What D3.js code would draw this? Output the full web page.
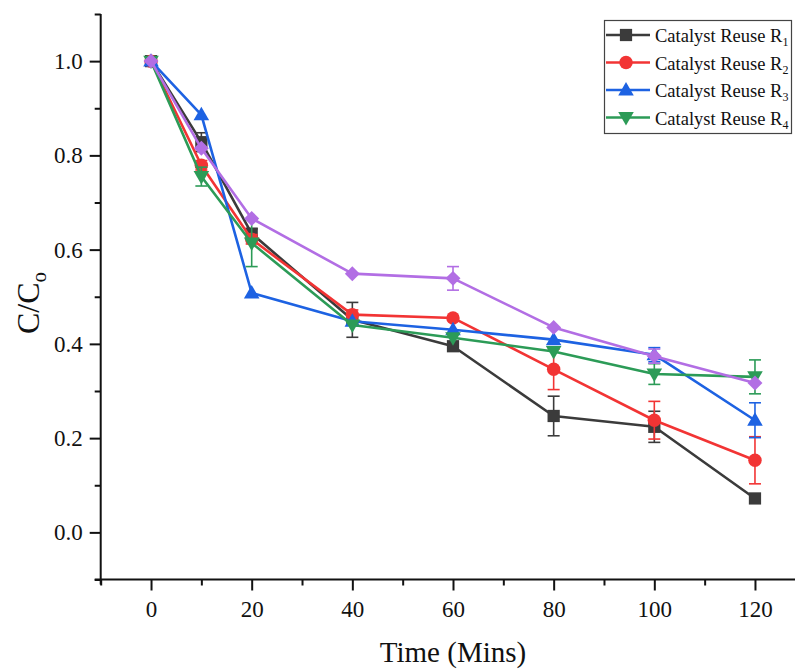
<!DOCTYPE html>
<html>
<head>
<meta charset="utf-8">
<script src="https://cdn.jsdelivr.net/npm/d3@7"></script>
<style>
  html, body { margin: 0; padding: 0; background: #fff; }
  svg { display: block; }
  text { font-family: "Liberation Serif", "Times New Roman", serif; fill: #111; }
</style>
</head>
<body>
<svg id="chart" width="795" height="669"></svg>
<script>
// Sampling times (min)
const times = [0, 10, 20, 40, 60, 80, 100, 120];

// C/C0 for each reuse cycle
const reuseR1 = [1.0, 0.828, 0.634, 0.451, 0.395, 0.247, 0.224, 0.072];
const reuseR2 = [1.0, 0.779, 0.622, 0.462, 0.455, 0.346, 0.238, 0.153];
const reuseR3 = [1.0, 0.886, 0.508, 0.448, 0.430, 0.409, 0.377, 0.238];
const reuseR4 = [1.0, 0.755, 0.614, 0.440, 0.413, 0.384, 0.336, 0.330];
const reuseR5 = [1.0, 0.815, 0.666, 0.549, 0.539, 0.435, 0.374, 0.317];

// Standard deviations
const errR1 = [0, 0.020, 0.010, 0.037, 0.008, 0.042, 0.033, 0];
const errR2 = [0, 0.010, 0.010, 0.010, 0, 0.043, 0.040, 0.050];
const errR3 = [0, 0, 0, 0, 0, 0, 0.015, 0.037];
const errR4 = [0, 0.020, 0.050, 0, 0, 0, 0.022, 0.036];
const errR5 = [0, 0, 0, 0, 0.025, 0, 0.015, 0];

// Axis ticks
const xMajorTicks = [0, 20, 40, 60, 80, 100, 120];
const xMinorTicks = [-10, 10, 30, 50, 70, 90, 110, 130];
const yMajorTicks = [0.0, 0.2, 0.4, 0.6, 0.8, 1.0];
const yMinorTicks = [-0.1, 0.1, 0.3, 0.5, 0.7, 0.9, 1.1];

const legendLabels = ["Catalyst Reuse R", "Catalyst Reuse R", "Catalyst Reuse R", "Catalyst Reuse R"];
const legendSubs = ["1", "2", "3", "4"];

const series = [
  { values: reuseR1, err: errR1, color: "#3b3b3b", shape: "square" },
  { values: reuseR2, err: errR2, color: "#f23434", shape: "circle" },
  { values: reuseR3, err: errR3, color: "#1d62e2", shape: "triangle" },
  { values: reuseR4, err: errR4, color: "#2c9b57", shape: "triangleDown" },
  { values: reuseR5, err: errR5, color: "#b26ee4", shape: "diamond" }
];

const SERIF = '"Liberation Serif", "Times New Roman", serif';
const svg = d3.select("#chart");

const x = d3.scaleLinear().domain([-10, 130]).range([100.7, 805.3]);
const y = d3.scaleLinear().domain([-0.1, 1.1]).range([579.5, 14]);

// Axes
const axisG = svg.append("g");

function styleAxis(g) {
  g.attr("font-family", SERIF).attr("font-size", 23);
  g.select(".domain").remove();
  g.selectAll(".tick line").attr("stroke", "#111").attr("stroke-width", 2);
  g.selectAll(".tick text")
    .attr("fill", "#222")
    .attr("font-family", SERIF)
    .style("font-family", SERIF)
    .style("font-size", "23px");
}

axisG.append("g").attr("transform", `translate(0,${y(-0.1)})`)
  .call(d3.axisBottom(x).tickValues(xMajorTicks).tickSize(11).tickSizeOuter(0).tickPadding(10).tickFormat(d3.format("d")))
  .call(styleAxis);
axisG.append("g").attr("transform", `translate(0,${y(-0.1)})`)
  .call(d3.axisBottom(x).tickValues(xMinorTicks).tickSize(6).tickSizeOuter(0).tickFormat(""))
  .call(styleAxis);
axisG.append("g").attr("transform", `translate(${x(-10)},0)`)
  .call(d3.axisLeft(y).tickValues(yMajorTicks).tickSize(11).tickSizeOuter(0).tickPadding(7).tickFormat(d3.format(".1f")))
  .call(styleAxis);
axisG.append("g").attr("transform", `translate(${x(-10)},0)`)
  .call(d3.axisLeft(y).tickValues(yMinorTicks).tickSize(6).tickSizeOuter(0).tickFormat(""))
  .call(styleAxis);

// axis lines, slightly overshooting the corner
axisG.append("line")
  .attr("x1", x(-10) - 6).attr("x2", 795)
  .attr("y1", y(-0.1)).attr("y2", y(-0.1))
  .attr("stroke", "#111").attr("stroke-width", 2);
axisG.append("line")
  .attr("x1", x(-10)).attr("x2", x(-10))
  .attr("y1", y(-0.1) + 5).attr("y2", y(1.1))
  .attr("stroke", "#111").attr("stroke-width", 2);

// Axis titles
svg.append("text")
  .attr("x", 453).attr("y", 662)
  .attr("text-anchor", "middle")
  .style("font-size", "29px")
  .text("Time (Mins)");

const yTitle = svg.append("text")
  .attr("transform", "translate(39,303) rotate(-90)")
  .attr("text-anchor", "middle")
  .style("font-size", "32px");
yTitle.append("tspan").text("C/C");
yTitle.append("tspan").attr("dy", 7).style("font-size", "21px").text("o");

// Marker shapes
function markerPath(shape) {
  switch (shape) {
    case "square": return d3.symbol().type(d3.symbolSquare).size(150)();
    case "circle": return d3.symbol().type(d3.symbolCircle).size(142)();
    case "triangle":
    case "triangleDown": return d3.symbol().type(d3.symbolTriangle).size(105)();
    case "diamond": return d3.symbol().type(d3.symbolSquare).size(112)();
  }
}
function markerTransform(shape, cx, cy) {
  if (shape === "triangleDown") return `translate(${cx},${cy - 1}) rotate(180)`;
  if (shape === "triangle") return `translate(${cx},${cy + 1})`;
  if (shape === "diamond") return `translate(${cx},${cy}) rotate(45)`;
  return `translate(${cx},${cy})`;
}

const line = d3.line().x(d => x(d.t)).y(d => y(d.v));

series.forEach(s => {
  const pts = times.map((t, i) => ({ t, v: s.values[i], e: s.err[i] }));
  const g = svg.append("g");

  g.append("path")
    .datum(pts)
    .attr("d", line)
    .attr("fill", "none")
    .attr("stroke", s.color)
    .attr("stroke-width", 2.6)
    .attr("stroke-linejoin", "round");

  const eb = g.selectAll(".eb").data(pts.filter(d => d.e > 0)).enter().append("g");
  eb.append("line")
    .attr("x1", d => x(d.t)).attr("x2", d => x(d.t))
    .attr("y1", d => y(d.v + d.e)).attr("y2", d => y(d.v - d.e))
    .attr("stroke", s.color).attr("stroke-width", 1.6);
  [1, -1].forEach(sign => {
    eb.append("line")
      .attr("x1", d => x(d.t) - 6).attr("x2", d => x(d.t) + 6)
      .attr("y1", d => y(d.v + sign * d.e)).attr("y2", d => y(d.v + sign * d.e))
      .attr("stroke", s.color).attr("stroke-width", 1.6);
  });

  g.selectAll(".mk").data(pts).enter().append("path")
    .attr("d", markerPath(s.shape))
    .attr("transform", d => markerTransform(s.shape, x(d.t), y(d.v)))
    .attr("fill", s.color);
});

// Legend
const legend = svg.append("g");
legend.append("rect")
  .attr("x", 604.5).attr("y", 20.5).attr("width", 187).attr("height", 113)
  .attr("fill", "#fff").attr("stroke", "#444").attr("stroke-width", 1.2);

legendLabels.forEach((lab, i) => {
  const s = series[i];
  const cy = 35 + i * 27.5;
  legend.append("line")
    .attr("x1", 606).attr("x2", 650).attr("y1", cy).attr("y2", cy)
    .attr("stroke", s.color).attr("stroke-width", 2.4);
  legend.append("path")
    .attr("d", markerPath(s.shape))
    .attr("transform", markerTransform(s.shape, 626, cy))
    .attr("fill", s.color);
  const t = legend.append("text")
    .attr("x", 655).attr("y", cy + 7)
    .style("font-size", "18.5px");
  t.append("tspan").text(lab);
  t.append("tspan").attr("dy", 4).style("font-size", "12px").text(legendSubs[i]);
});
</script>
</body>
</html>
